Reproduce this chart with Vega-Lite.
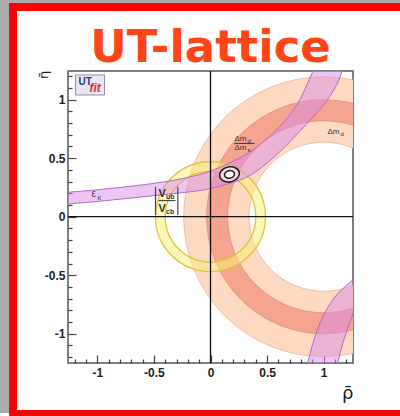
{
  "$schema": "https://vega.github.io/schema/vega-lite/v6.json",
  "width": 285,
  "height": 292,
  "autosize": {"type": "none"},
  "padding": {"left": 68, "top": 71, "right": 47, "bottom": 53},
  "background": "white",
  "config": {"view": {"stroke": "#555", "strokeWidth": 1.5}},
  "resolve": {"axis": {"x": "independent", "y": "independent"}},
  "datasets": {
    "one": [{}],
    "rings": [
      {"id": "dmd", "cx": 1, "cy": 0, "r_in": 0.648, "r_out": 1.217},
      {"id": "ratio", "cx": 1, "cy": 0, "r_in": 0.835, "r_out": 1.017},
      {"id": "vub", "cx": 0, "cy": 0, "r_in": 0.394, "r_out": 0.478}
    ],
    "ek_up": [
      {"rho": -1.27, "lo": 0.108, "hi": 0.208},
      {"rho": -1.0, "lo": 0.13, "hi": 0.23},
      {"rho": -0.75, "lo": 0.155, "hi": 0.255},
      {"rho": -0.5, "lo": 0.18, "hi": 0.285},
      {"rho": -0.25, "lo": 0.205, "hi": 0.325},
      {"rho": 0.0, "lo": 0.24, "hi": 0.39},
      {"rho": 0.17, "lo": 0.285, "hi": 0.46},
      {"rho": 0.345, "lo": 0.35, "hi": 0.55},
      {"rho": 0.49, "lo": 0.45, "hi": 0.66},
      {"rho": 0.64, "lo": 0.58, "hi": 0.8},
      {"rho": 0.79, "lo": 0.73, "hi": 1.0},
      {"rho": 0.9, "lo": 0.845, "hi": 1.23},
      {"rho": 0.935, "lo": 0.884, "hi": 1.3},
      {"rho": 1.053, "lo": 1.026, "hi": 1.3},
      {"rho": 1.157, "lo": 1.226, "hi": 1.3},
      {"rho": 1.18, "lo": 1.3, "hi": 1.3}
    ],
    "ek_down": [
      {"rho": 0.84, "lo": -1.3, "hi": -1.3},
      {"rho": 0.861, "lo": -1.3, "hi": -1.24},
      {"rho": 0.905, "lo": -1.3, "hi": -1.082},
      {"rho": 0.994, "lo": -1.3, "hi": -0.855},
      {"rho": 1.08, "lo": -1.3, "hi": -0.712},
      {"rho": 1.11, "lo": -1.3, "hi": -0.675},
      {"rho": 1.127, "lo": -1.24, "hi": -0.655},
      {"rho": 1.17, "lo": -1.082, "hi": -0.615},
      {"rho": 1.23, "lo": -0.91, "hi": -0.565},
      {"rho": 1.27, "lo": -0.8, "hi": -0.53}
    ],
    "fit": [{"rho": 0.168, "eta": 0.362}],
    "labels": [
      {"t": "ε", "rho": -1.052, "eta": 0.168, "k": "eps"},
      {"t": "K", "rho": -1.0, "eta": 0.143, "k": "tiny"},
      {"t": "V", "rho": -0.46, "eta": 0.168, "k": "v"},
      {"t": "ub", "rho": -0.393, "eta": 0.151, "k": "vsub"},
      {"t": "V", "rho": -0.46, "eta": 0.04, "k": "v"},
      {"t": "cb", "rho": -0.393, "eta": 0.023, "k": "vsub"},
      {"t": "Δm", "rho": 0.212, "eta": 0.646, "k": "dm"},
      {"t": "d", "rho": 0.327, "eta": 0.63, "k": "tiny"},
      {"t": "Δm", "rho": 0.212, "eta": 0.57, "k": "dm"},
      {"t": "s", "rho": 0.327, "eta": 0.553, "k": "tiny"},
      {"t": "Δm", "rho": 1.034, "eta": 0.707, "k": "dm"},
      {"t": "d", "rho": 1.15, "eta": 0.69, "k": "tiny"},
      {"t": "UT", "rho": -1.167, "eta": 1.125, "k": "ut"},
      {"t": "fit", "rho": -1.07, "eta": 1.065, "k": "fit"}
    ],
    "segs": [
      {"rho": -0.46, "rho2": -0.31, "eta": 0.138, "eta2": 0.138},
      {"rho": -0.486, "rho2": -0.486, "eta": 0.015, "eta2": 0.256},
      {"rho": -0.289, "rho2": -0.289, "eta": 0.015, "eta2": 0.256},
      {"rho": 0.212, "rho2": 0.389, "eta": 0.626, "eta2": 0.626}
    ],
    "logo": [{"rho": -1.194, "rho2": -0.937, "eta": 1.04, "eta2": 1.211}]
  },
  "layer": [
    {
      "data": {"name": "one"},
      "mark": {"type": "rule", "color": "#ababab", "strokeWidth": 18, "clip": false},
      "encoding": {
        "x": {"datum": -1.861, "type": "quantitative", "axis": null},
        "y": {"datum": 1.85, "type": "quantitative", "axis": null},
        "y2": {"datum": -1.678}
      }
    },
    {
      "data": {"name": "one"},
      "mark": {"type": "rule", "color": "#ababab", "strokeWidth": 6, "clip": false},
      "encoding": {
        "x": {"datum": -1.861, "type": "quantitative", "axis": null},
        "x2": {"datum": 1.68},
        "y": {"datum": 1.844, "type": "quantitative", "axis": null}
      }
    },
    {
      "data": {"name": "one"},
      "mark": {"type": "rule", "color": "#ff0000", "strokeWidth": 8, "clip": false},
      "encoding": {
        "x": {"datum": -1.746, "type": "quantitative", "axis": null},
        "y": {"datum": 1.826, "type": "quantitative", "axis": null},
        "y2": {"datum": -1.678}
      }
    },
    {
      "data": {"name": "one"},
      "mark": {"type": "rule", "color": "#ff0000", "strokeWidth": 8, "clip": false},
      "encoding": {
        "x": {"datum": -1.781, "type": "quantitative", "axis": null},
        "x2": {"datum": 1.68},
        "y": {"datum": 1.792, "type": "quantitative", "axis": null}
      }
    },
    {
      "data": {"name": "one"},
      "mark": {"type": "rule", "color": "#ff0000", "strokeWidth": 6, "clip": false},
      "encoding": {
        "x": {"datum": -1.781, "type": "quantitative", "axis": null},
        "x2": {"datum": 1.68},
        "y": {"datum": -1.678, "type": "quantitative", "axis": null}
      }
    },
    {
      "data": {"name": "rings"},
      "transform": [{"filter": "datum.id == 'dmd'"}],
      "mark": {"type": "arc", "clip": true, "theta": 0, "theta2": 6.2832, "fill": "#fcd9c0", "stroke": "#efb49b", "strokeWidth": 0.8},
      "encoding": {
        "x": {"field": "cx", "type": "quantitative", "axis": null},
        "y": {"field": "cy", "type": "quantitative", "axis": null},
        "radius": {"field": "r_out", "type": "quantitative", "scale": {"type": "linear", "domain": [0, 1], "range": [0, 115], "zero": true}},
        "radius2": {"field": "r_in"}
      }
    },
    {
      "data": {"name": "rings"},
      "transform": [{"filter": "datum.id == 'ratio'"}],
      "mark": {"type": "arc", "clip": true, "theta": 0, "theta2": 6.2832, "fill": "#f5a48d", "stroke": "#de8a78", "strokeWidth": 0.8},
      "encoding": {
        "x": {"field": "cx", "type": "quantitative", "axis": null},
        "y": {"field": "cy", "type": "quantitative", "axis": null},
        "radius": {"field": "r_out", "type": "quantitative", "scale": {"type": "linear", "domain": [0, 1], "range": [0, 115], "zero": true}},
        "radius2": {"field": "r_in"}
      }
    },
    {
      "data": {"name": "rings"},
      "transform": [{"filter": "datum.id == 'vub'"}],
      "mark": {"type": "arc", "clip": true, "theta": 0, "theta2": 6.2832, "fill": "#f8f07a", "fillOpacity": 0.55, "stroke": "#e6bf3c", "strokeWidth": 1.3},
      "encoding": {
        "x": {"field": "cx", "type": "quantitative", "axis": null},
        "y": {"field": "cy", "type": "quantitative", "axis": null},
        "radius": {"field": "r_out", "type": "quantitative", "scale": {"type": "linear", "domain": [0, 1], "range": [0, 115], "zero": true}},
        "radius2": {"field": "r_in"}
      }
    },
    {
      "data": {"name": "ek_up"},
      "mark": {"type": "area", "clip": true, "interpolate": "monotone", "color": "#d98be8", "opacity": 0.5},
      "encoding": {
        "x": {
          "field": "rho", "type": "quantitative",
          "scale": {"domain": [-1.26, 1.26], "nice": false, "zero": false},
          "axis": {
            "orient": "bottom",
            "values": [-1, -0.5, 0, 0.5, 1],
            "tickSize": -8, "tickColor": "#444", "tickWidth": 1.2, "domain": false, "grid": false,
            "labelExpr": "replace(format(datum.value, '~g'), '−', '-')",
            "labelFont": "Liberation Sans", "labelFontWeight": "bold", "labelFontSize": 12, "labelColor": "#222",
            "labelPadding": 12, "labelOverlap": false, "labelFlush": false,
            "title": "ρ̄", "titleFont": "DejaVu Sans", "titleFontSize": 18, "titleFontWeight": "normal", "titleColor": "#222",
            "titleAnchor": "end", "titlePadding": 6
          }
        },
        "y": {
          "field": "lo", "type": "quantitative",
          "scale": {"domain": [-1.25, 1.245], "nice": false, "zero": false},
          "axis": {
            "orient": "left",
            "values": [-1, -0.5, 0, 0.5, 1],
            "tickSize": -8, "tickColor": "#444", "tickWidth": 1.2, "domain": false, "grid": false,
            "labelExpr": "replace(format(datum.value, '~g'), '−', '-')",
            "labelFont": "Liberation Sans", "labelFontWeight": "bold", "labelFontSize": 12, "labelColor": "#222",
            "labelPadding": 11, "labelOverlap": false, "labelFlush": false,
            "title": null
          }
        },
        "y2": {"field": "hi"}
      }
    },
    {
      "data": {"name": "ek_down"},
      "mark": {"type": "area", "clip": true, "interpolate": "monotone", "color": "#d98be8", "opacity": 0.5},
      "encoding": {
        "x": {
          "field": "rho", "type": "quantitative",
          "axis": {
            "orient": "bottom",
            "values": [-1.2, -1.1, -0.9, -0.8, -0.7, -0.6, -0.4, -0.3, -0.2, -0.1, 0.1, 0.2, 0.3, 0.4, 0.6, 0.7, 0.8, 0.9, 1.1, 1.2],
            "tickSize": -4, "tickColor": "#444", "tickWidth": 1.2, "domain": false, "grid": false,
            "labels": false, "title": null
          }
        },
        "y": {
          "field": "lo", "type": "quantitative",
          "axis": {
            "orient": "left",
            "values": [-1.2, -1.1, -0.9, -0.8, -0.7, -0.6, -0.4, -0.3, -0.2, -0.1, 0.1, 0.2, 0.3, 0.4, 0.6, 0.7, 0.8, 0.9, 1.1, 1.2],
            "tickSize": -4, "tickColor": "#444", "tickWidth": 1.2, "domain": false, "grid": false,
            "labels": false, "title": null
          }
        },
        "y2": {"field": "hi"}
      }
    },
    {
      "data": {"name": "ek_up"},
      "mark": {"type": "line", "clip": true, "interpolate": "monotone", "color": "#b668c8", "strokeWidth": 1},
      "encoding": {
        "x": {"field": "rho", "type": "quantitative", "axis": null},
        "y": {"field": "hi", "type": "quantitative", "axis": null}
      }
    },
    {
      "data": {"name": "ek_up"},
      "mark": {"type": "line", "clip": true, "interpolate": "monotone", "color": "#b668c8", "strokeWidth": 1},
      "encoding": {
        "x": {"field": "rho", "type": "quantitative", "axis": null},
        "y": {"field": "lo", "type": "quantitative", "axis": null}
      }
    },
    {
      "data": {"name": "ek_down"},
      "mark": {"type": "line", "clip": true, "interpolate": "monotone", "color": "#b668c8", "strokeWidth": 1},
      "encoding": {
        "x": {"field": "rho", "type": "quantitative", "axis": null},
        "y": {"field": "hi", "type": "quantitative", "axis": null}
      }
    },
    {
      "data": {"name": "ek_down"},
      "mark": {"type": "line", "clip": true, "interpolate": "monotone", "color": "#b668c8", "strokeWidth": 1},
      "encoding": {
        "x": {"field": "rho", "type": "quantitative", "axis": null},
        "y": {"field": "lo", "type": "quantitative", "axis": null}
      }
    },
    {
      "data": {"name": "one"},
      "mark": {"type": "rule", "color": "#111", "strokeWidth": 1.3},
      "encoding": {"x": {"datum": 0, "type": "quantitative", "axis": null}}
    },
    {
      "data": {"name": "one"},
      "mark": {"type": "rule", "color": "#111", "strokeWidth": 1.3},
      "encoding": {"y": {"datum": 0, "type": "quantitative", "axis": null}}
    },
    {
      "data": {"name": "fit"},
      "mark": {"type": "point", "shape": "M-1,0A1,0.75,0,1,1,1,0A1,0.75,0,1,1,-1,0Z", "size": 400, "angle": -12, "filled": false, "fill": "white", "fillOpacity": 0.6, "stroke": "#222", "strokeWidth": 1.6, "opacity": 1},
      "encoding": {
        "x": {"field": "rho", "type": "quantitative", "axis": null},
        "y": {"field": "eta", "type": "quantitative", "axis": null}
      }
    },
    {
      "data": {"name": "fit"},
      "mark": {"type": "point", "shape": "M-1,0A1,0.75,0,1,1,1,0A1,0.75,0,1,1,-1,0Z", "size": 100, "angle": -12, "filled": false, "fill": "white", "fillOpacity": 1, "stroke": "#222", "strokeWidth": 1.6, "opacity": 1},
      "encoding": {
        "x": {"field": "rho", "type": "quantitative", "axis": null},
        "y": {"field": "eta", "type": "quantitative", "axis": null}
      }
    },
    {
      "data": {"name": "segs"},
      "mark": {"type": "rule", "color": "#444", "strokeWidth": 1.2},
      "encoding": {
        "x": {"field": "rho", "type": "quantitative", "axis": null},
        "x2": {"field": "rho2"},
        "y": {"field": "eta", "type": "quantitative", "axis": null},
        "y2": {"field": "eta2"}
      }
    },
    {
      "data": {"name": "logo"},
      "mark": {"type": "rect", "fill": "#ebe5f3", "stroke": "#8e8eb0", "strokeWidth": 1},
      "encoding": {
        "x": {"field": "rho", "type": "quantitative", "axis": null},
        "x2": {"field": "rho2"},
        "y": {"field": "eta", "type": "quantitative", "axis": null},
        "y2": {"field": "eta2"}
      }
    },
    {
      "data": {"name": "labels"},
      "transform": [{"filter": "datum.k == 'eps'"}],
      "mark": {"type": "text", "align": "left", "baseline": "alphabetic", "font": "Liberation Sans", "fontSize": 10, "color": "#553366"},
      "encoding": {
        "x": {"field": "rho", "type": "quantitative", "axis": null},
        "y": {"field": "eta", "type": "quantitative", "axis": null},
        "text": {"field": "t"}
      }
    },
    {
      "data": {"name": "labels"},
      "transform": [{"filter": "datum.k == 'tiny'"}],
      "mark": {"type": "text", "align": "left", "baseline": "alphabetic", "font": "Liberation Sans", "fontSize": 6, "color": "#333"},
      "encoding": {
        "x": {"field": "rho", "type": "quantitative", "axis": null},
        "y": {"field": "eta", "type": "quantitative", "axis": null},
        "text": {"field": "t"}
      }
    },
    {
      "data": {"name": "labels"},
      "transform": [{"filter": "datum.k == 'dm'"}],
      "mark": {"type": "text", "align": "left", "baseline": "alphabetic", "font": "Liberation Sans", "fontSize": 8, "color": "#333"},
      "encoding": {
        "x": {"field": "rho", "type": "quantitative", "axis": null},
        "y": {"field": "eta", "type": "quantitative", "axis": null},
        "text": {"field": "t"}
      }
    },
    {
      "data": {"name": "labels"},
      "transform": [{"filter": "datum.k == 'v'"}],
      "mark": {"type": "text", "align": "left", "baseline": "alphabetic", "font": "Liberation Sans", "fontSize": 11, "fontWeight": "bold", "color": "#333"},
      "encoding": {
        "x": {"field": "rho", "type": "quantitative", "axis": null},
        "y": {"field": "eta", "type": "quantitative", "axis": null},
        "text": {"field": "t"}
      }
    },
    {
      "data": {"name": "labels"},
      "transform": [{"filter": "datum.k == 'vsub'"}],
      "mark": {"type": "text", "align": "left", "baseline": "alphabetic", "font": "Liberation Sans", "fontSize": 7, "fontWeight": "bold", "color": "#333"},
      "encoding": {
        "x": {"field": "rho", "type": "quantitative", "axis": null},
        "y": {"field": "eta", "type": "quantitative", "axis": null},
        "text": {"field": "t"}
      }
    },
    {
      "data": {"name": "labels"},
      "transform": [{"filter": "datum.k == 'ut'"}],
      "mark": {"type": "text", "align": "left", "baseline": "alphabetic", "font": "Liberation Sans", "fontSize": 10, "fontWeight": "bold", "color": "#2a3a8a"},
      "encoding": {
        "x": {"field": "rho", "type": "quantitative", "axis": null},
        "y": {"field": "eta", "type": "quantitative", "axis": null},
        "text": {"field": "t"}
      }
    },
    {
      "data": {"name": "labels"},
      "transform": [{"filter": "datum.k == 'fit'"}],
      "mark": {"type": "text", "align": "left", "baseline": "alphabetic", "font": "Liberation Sans", "fontSize": 12, "fontWeight": "bold", "fontStyle": "italic", "color": "#e03030"},
      "encoding": {
        "x": {"field": "rho", "type": "quantitative", "axis": null},
        "y": {"field": "eta", "type": "quantitative", "axis": null},
        "text": {"field": "t"}
      }
    },
    {
      "data": {"name": "one"},
      "mark": {"type": "text", "text": "η̄", "angle": 270, "align": "center", "baseline": "alphabetic", "font": "DejaVu Sans", "fontSize": 13, "color": "#222", "clip": false},
      "encoding": {
        "x": {"datum": -1.437, "type": "quantitative", "axis": null},
        "y": {"datum": 1.211, "type": "quantitative", "axis": null}
      }
    },
    {
      "data": {"name": "one"},
      "mark": {"type": "text", "text": "UT-lattice", "align": "center", "baseline": "alphabetic", "font": "DejaVu Sans", "fontSize": 45, "fontWeight": "bold", "color": "#ff4515", "clip": false},
      "encoding": {
        "x": {"datum": 0, "type": "quantitative", "axis": null},
        "y": {"datum": 1.322, "type": "quantitative", "axis": null}
      }
    }
  ]
}
